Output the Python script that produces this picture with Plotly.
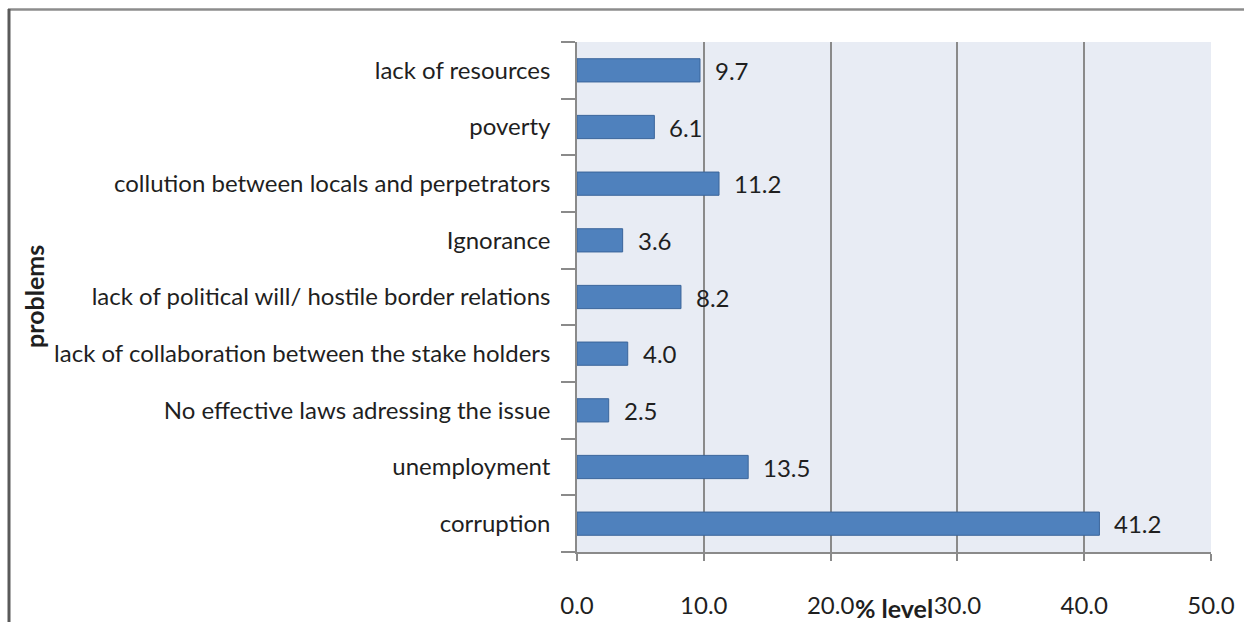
import plotly.graph_objects as go

# Survey responses: problems hindering the fight against the issue (% of respondents)
problems = [
    "corruption",
    "unemployment",
    "No effective laws adressing the issue",
    "lack of collaboration between the stake holders",
    "lack of political will/ hostile border relations",
    "Ignorance",
    "collution between locals and perpetrators",
    "poverty",
    "lack of resources",
]
percent_level = [41.2, 13.5, 2.5, 4.0, 8.2, 3.6, 11.2, 6.1, 9.7]
x_ticks = [0, 10, 20, 30, 40, 50]
x_tick_labels = ["0.0", "10.0", "20.0", "30.0", "40.0", "50.0"]

W, H = 1244, 622
M_L, M_R, M_T, M_B = 577, 33, 42, 70
PW, PH = W - M_L - M_R, H - M_T - M_B

FONT = "Lato"
TXT = "#1f1f1f"
FS = 24


def px_x(p):
    return (p - M_L) / PW


def px_y(p):
    return (H - M_B - p) / PH


fig = go.Figure()
fig.add_trace(go.Bar(
    x=percent_level,
    y=problems,
    orientation="h",
    width=0.41,
    marker=dict(color="#4F81BD", line=dict(color="#3A659A", width=1)),
    hoverinfo="x+y",
))

# value labels to the right of each bar
for p, v in zip(problems, percent_level):
    fig.add_annotation(
        x=v, y=p, xref="x", yref="y",
        text=f"{v:.1f}", showarrow=False,
        xanchor="left", yanchor="middle", xshift=13,
        font=dict(family=FONT, size=FS, color=TXT),
    )

# axis titles
fig.add_annotation(
    x=px_x(894), y=px_y(608), xref="paper", yref="paper",
    text="<b>% level</b>", showarrow=False,
    xanchor="center", yanchor="middle",
    font=dict(family=FONT, size=25, color=TXT),
)
fig.add_annotation(
    x=px_x(34), y=px_y(297), xref="paper", yref="paper",
    text="<b>problems</b>", showarrow=False, textangle=-90,
    xanchor="center", yanchor="middle",
    font=dict(family=FONT, size=25, color=TXT),
)

# outer frame lines (top and left)
fig.add_shape(type="line", xref="paper", yref="paper",
              x0=px_x(8), x1=px_x(W + 5), y0=px_y(9.5), y1=px_y(9.5),
              line=dict(color="#8c8c8c", width=2.5))
fig.add_shape(type="line", xref="paper", yref="paper",
              x0=px_x(9), x1=px_x(9), y0=px_y(9), y1=px_y(H + 5),
              line=dict(color="#5a5a5a", width=3))

fig.update_layout(
    width=W, height=H,
    margin=dict(l=M_L, r=M_R, t=M_T, b=M_B, pad=0, autoexpand=False),
    paper_bgcolor="white",
    plot_bgcolor="#E8ECF4",
    showlegend=False,
    bargap=0.59,
    font=dict(family=FONT, size=FS, color=TXT),
    xaxis=dict(
        range=[0, 50],
        tickvals=x_ticks, ticktext=x_tick_labels,
        showgrid=True, gridcolor="#8a8a8a", gridwidth=1.5,
        showline=True, linecolor="#8a8a8a", linewidth=1.5,
        ticks="outside", ticklen=7, tickcolor="#8a8a8a", tickwidth=1.5,
        ticklabelstandoff=24,
        zeroline=False, fixedrange=True, automargin=False,
        tickfont=dict(family=FONT, size=FS, color=TXT),
    ),
    yaxis=dict(
        categoryorder="array", categoryarray=problems,
        tickson="boundaries",
        showgrid=False,
        showline=True, linecolor="#8a8a8a", linewidth=1.5,
        ticks="outside", ticklen=14, tickcolor="#8a8a8a", tickwidth=1.5,
        ticklabelstandoff=20,
        fixedrange=True, automargin=False,
        tickfont=dict(family=FONT, size=FS, color=TXT),
    ),
)

fig.write_html("out.html")
